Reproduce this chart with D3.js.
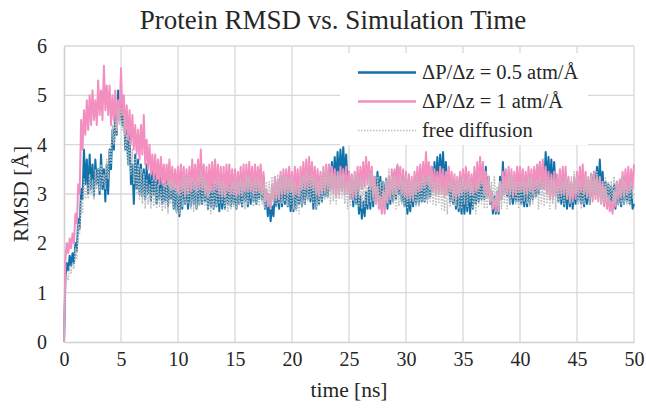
<!DOCTYPE html>
<html><head><meta charset="utf-8">
<script src="https://cdn.jsdelivr.net/npm/d3@7"></script>
<style>body{margin:0;background:#fff}svg{display:block}text{font-family:"Liberation Serif","Times New Roman",serif}</style>
</head><body><svg id="c" width="646" height="410"></svg>
<script>
const title = "Protein RMSD vs. Simulation Time";
const xLabel = "time [ns]";
const yLabel = "RMSD [Å]";
const xTicks = [0,5,10,15,20,25,30,35,40,45,50];
const yTicks = [0,1,2,3,4,5,6];
const seriesNames = ["ΔP/Δz = 0.5 atm/Å","ΔP/Δz = 1 atm/Å","free diffusion"];
const timeStep = 0.125; // ns between samples (8 samples per ns)
const rmsdHalf = [
0,1.3,1.6,1.45,1.75,1.55,1.8,1.6,
2.0,1.85,2.5,2.3,3.1,2.9,3.9,3.2,
3.7,3.0,3.8,3.1,3.6,2.95,3.7,3.2,
3.5,3.0,3.8,3.1,3.5,2.85,3.6,3.0,
3.9,3.5,4.3,3.9,4.7,4.2,5.1,4.5,
4.9,4.4,4.8,3.9,4.3,3.6,4.2,3.2,
3.6,2.8,3.8,3.1,3.7,3.0,3.6,2.95,
3.5,2.9,3.6,3.0,3.4,2.85,3.5,3.0,
3.4,2.8,3.3,2.9,3.35,2.8,3.2,2.85,
3.3,2.75,3.2,2.9,3.3,2.7,3.1,2.65,
3.05,2.55,3.15,2.7,3.35,2.8,3.3,2.7,
3.25,2.75,3.35,2.8,3.3,2.7,3.25,2.8,
3.35,2.8,3.4,2.85,3.35,2.7,3.2,2.75,
3.25,2.7,3.2,2.75,3.25,2.65,3.15,2.7,
3.1,2.7,3.35,2.8,3.3,2.75,3.25,2.8,
3.2,2.7,3.25,2.8,3.15,2.75,3.25,2.85,
3.25,2.75,3.3,2.8,3.35,2.85,3.3,2.8,
3.35,2.9,3.5,2.9,3.35,2.7,3.05,2.55,
2.85,2.45,2.75,2.55,3.05,2.75,3.2,2.7,
3.35,2.75,3.25,2.8,3.3,2.75,3.25,2.65,
3.05,2.65,3.15,2.7,3.25,2.8,3.2,2.75,
3.35,2.8,3.4,2.9,3.45,2.85,3.35,2.7,
3.2,2.7,3.25,2.8,3.35,2.85,3.3,2.95,
3.4,2.95,3.55,3.1,3.65,3.2,3.75,3.25,
3.85,3.3,3.9,3.35,3.95,3.4,3.8,3.2,
3.45,2.9,3.25,2.75,3.25,2.8,3.15,2.6,
2.95,2.5,2.85,2.55,3.05,2.7,3.15,2.7,
3.35,2.75,3.35,2.9,3.45,2.85,3.35,2.8,
3.25,2.75,3.3,2.7,3.35,2.8,3.25,2.85,
3.45,2.9,3.55,3.0,3.35,2.85,3.25,2.75,
3.05,2.6,3.0,2.65,3.15,2.75,3.25,2.8,
3.35,2.8,3.25,2.85,3.35,2.85,3.45,2.9,
3.45,2.95,3.55,3.05,3.65,3.15,3.75,3.2,
3.8,3.3,3.85,3.25,3.65,3.0,3.35,2.85,
3.25,2.8,3.2,2.7,3.05,2.65,3.05,2.6,
3.15,2.6,3.1,2.65,3.15,2.6,3.05,2.7,
3.25,2.8,3.25,2.85,3.45,2.9,3.4,2.9,
3.55,2.95,3.35,2.8,3.05,2.6,2.95,2.6,
3.05,2.6,3.35,2.9,3.65,3.0,3.45,2.95,
3.35,2.8,3.3,2.8,3.25,2.85,3.35,2.85,
3.35,2.8,3.2,2.75,3.15,2.75,3.25,2.8,
3.35,2.9,3.45,2.95,3.55,3.0,3.65,3.1,
3.55,3.1,3.85,3.25,3.75,3.2,3.7,3.1,
3.65,3.0,3.35,2.85,3.35,2.8,3.25,2.75,
3.25,2.7,3.15,2.75,3.2,2.7,3.15,2.8,
3.35,2.85,3.3,2.8,3.2,2.75,3.15,2.8,
3.25,2.8,3.4,2.95,3.45,3.0,3.55,3.1,
3.7,3.1,3.45,2.9,3.25,2.8,3.2,2.75,
3.15,2.7,3.2,2.7,3.25,2.8,3.15,2.75,
3.35,2.8,3.3,2.85,3.25,2.8,3.15,2.7,
2.8];
const rmsdOne = [
0,1.7,2.0,1.8,2.1,1.9,2.2,2.0,
2.6,2.4,3.2,3.0,4.5,3.9,4.7,4.2,
4.9,4.3,5.0,4.4,5.1,4.5,4.9,4.4,
5.3,4.6,5.1,4.5,5.6,4.7,5.2,4.6,
5.2,4.4,5.0,4.5,5.1,4.3,4.9,4.5,
5.55,4.6,5.0,4.2,4.8,4.1,4.7,4.0,
4.6,3.9,4.4,3.8,4.3,3.7,4.4,3.8,
4.6,3.6,4.1,3.5,4.0,3.4,3.8,3.3,
3.8,3.3,3.7,3.2,3.75,3.2,3.6,3.15,
3.6,3.2,3.7,3.1,3.55,3.1,3.5,3.05,
3.55,3.0,3.6,3.05,3.55,2.95,3.5,3.0,
3.55,3.05,3.7,3.1,3.6,3.05,3.7,3.1,
3.9,3.1,3.6,3.0,3.55,2.95,3.6,3.05,
3.65,3.05,3.7,3.1,3.6,3.0,3.55,2.95,
3.55,2.95,3.6,3.05,3.6,3.0,3.5,3.0,
3.5,2.95,3.45,3.0,3.55,3.0,3.6,3.05,
3.6,3.05,3.65,3.05,3.55,3.0,3.6,3.05,
3.55,3.05,3.6,3.0,3.45,2.85,3.1,2.75,
3.0,2.7,3.2,2.85,3.35,2.9,3.3,2.9,
3.45,3.0,3.5,3.0,3.5,3.0,3.55,3.05,
3.45,2.95,3.55,3.0,3.5,2.95,3.55,3.1,
3.65,3.1,3.7,3.1,3.75,3.15,3.65,3.1,
3.55,3.0,3.5,2.95,3.45,3.0,3.55,3.05,
3.6,3.1,3.6,3.05,3.55,3.0,3.5,2.95,
3.45,3.0,3.55,3.05,3.5,3.0,3.55,3.0,
3.45,2.9,3.4,2.9,3.45,2.95,3.55,3.05,
3.55,3.1,3.65,3.15,3.75,3.2,3.65,3.1,
3.55,2.95,3.35,2.8,3.15,2.7,2.95,2.6,
3.05,2.6,3.25,2.85,3.35,2.9,3.5,3.0,
3.5,3.0,3.6,3.1,3.55,3.0,3.5,2.95,
3.45,2.9,3.4,2.9,3.35,2.9,3.45,3.0,
3.55,3.05,3.6,3.1,3.65,3.15,3.85,3.2,
3.65,3.1,3.55,3.05,3.5,3.0,3.45,3.0,
3.55,3.0,3.5,2.95,3.45,3.0,3.55,3.05,
3.45,2.9,3.4,2.9,3.35,2.95,3.45,3.0,
3.5,3.05,3.55,3.05,3.45,3.0,3.4,3.0,
3.55,3.05,3.65,3.1,3.75,3.2,3.65,3.0,
3.45,2.95,3.35,2.85,3.05,2.7,2.9,2.65,
3.05,2.65,3.25,2.9,3.45,3.0,3.5,3.0,
3.55,3.0,3.5,2.95,3.45,3.0,3.55,3.05,
3.55,3.05,3.5,3.0,3.45,3.0,3.55,3.05,
3.5,3.0,3.55,3.1,3.6,3.1,3.65,3.1,
3.7,3.1,3.55,3.0,3.45,2.9,3.4,2.9,
3.45,2.95,3.4,3.0,3.5,3.0,3.55,3.0,
3.55,2.9,3.35,2.85,3.25,2.85,3.35,2.9,
3.45,3.0,3.55,3.05,3.6,3.0,3.45,2.95,
3.35,2.9,3.4,2.85,3.45,2.9,3.35,2.85,
3.35,2.8,3.25,2.75,3.15,2.7,2.95,2.65,
2.85,2.6,3.05,2.75,3.25,2.9,3.3,2.95,
3.45,2.95,3.5,3.0,3.55,3.05,3.5,3.1,
3.6];
const rmsdFree = [
0,1.1,1.35,1.25,1.55,1.4,1.6,1.5,
1.9,1.7,2.4,2.2,2.9,2.6,3.3,2.9,
3.2,2.9,3.4,3.0,3.3,2.9,3.5,3.1,
3.5,3.05,3.6,3.2,3.4,3.1,3.7,3.3,
3.9,3.6,4.4,4.0,4.5,4.2,4.7,4.4,
4.75,4.3,4.6,3.9,4.2,3.6,4.1,3.4,
3.9,3.2,3.7,3.0,3.6,2.9,3.5,2.8,
3.4,2.7,3.3,2.8,3.2,2.7,3.3,2.75,
3.3,2.7,3.2,2.75,3.1,2.65,3.2,2.7,
3.2,2.6,3.3,2.8,3.3,2.7,3.2,2.6,
3.15,2.6,3.25,2.75,3.4,2.8,3.35,2.8,
3.35,2.7,3.3,2.65,3.25,2.7,3.35,2.75,
3.45,2.8,3.35,2.75,3.25,2.65,3.15,2.6,
3.15,2.7,3.25,2.75,3.35,2.8,3.25,2.8,
3.25,2.7,3.2,2.65,3.15,2.7,3.25,2.75,
3.35,2.7,3.25,2.8,3.3,2.75,3.25,2.7,
3.4,2.8,3.35,2.9,3.25,2.75,3.35,2.8,
3.35,2.75,3.25,2.8,3.15,2.7,3.25,2.75,
3.25,2.7,3.35,2.8,3.3,2.75,3.4,2.8,
3.4,2.8,3.35,2.85,3.35,2.75,3.3,2.8,
3.35,2.7,3.25,2.65,3.15,2.6,3.35,2.75,
3.35,2.8,3.45,2.85,3.35,2.9,3.4,2.8,
3.35,2.7,3.25,2.75,3.35,2.8,3.5,2.9,
3.5,2.9,3.35,2.8,3.45,2.85,3.35,2.8,
3.45,2.9,3.35,2.9,3.4,2.8,3.25,2.7,
3.25,2.75,3.35,2.85,3.45,2.8,3.35,2.75,
3.35,2.7,3.25,2.75,3.3,2.8,3.4,2.85,
3.4,2.85,3.35,2.8,3.35,2.75,3.25,2.75,
3.25,2.75,3.35,2.8,3.5,2.9,3.35,2.8,
3.35,2.7,3.25,2.75,3.35,2.8,3.25,2.75,
3.35,2.7,3.25,2.8,3.35,2.85,3.25,2.75,
3.35,2.75,3.25,2.8,3.4,2.85,3.35,2.8,
3.35,2.85,3.4,2.8,3.25,2.75,3.35,2.8,
3.25,2.7,3.15,2.65,3.25,2.6,3.25,2.75,
3.35,2.8,3.25,2.75,3.35,2.7,3.25,2.7,
3.35,2.8,3.25,2.75,3.35,2.85,3.25,2.7,
3.15,2.6,3.25,2.75,3.35,2.8,3.25,2.7,
3.25,2.7,3.35,2.8,3.25,2.75,3.35,2.8,
3.15,2.65,3.25,2.7,3.35,2.8,3.25,2.7,
3.35,2.8,3.45,2.9,3.35,2.8,3.25,2.7,
3.25,2.8,3.35,2.85,3.25,2.8,3.35,2.75,
3.35,2.8,3.25,2.9,3.25,2.7,3.35,2.8,
3.25,2.75,3.35,2.8,3.25,2.7,3.35,2.8,
3.25,2.7,3.15,2.8,3.35,2.9,3.25,2.8,
3.35,2.9,3.25,2.8,3.35,2.85,3.45,3.0,
3.35,2.8,3.25,2.7,3.15,2.8,3.35,2.9,
3.35,2.8,3.45,2.9,3.35,3.0,3.45,2.9,
3.35,2.8,3.25,2.8,3.35,2.85,3.25,2.8,
3.25,2.8,3.35,2.85,3.25,2.75,3.15,2.8,
3.35,2.8,3.25,2.8,3.15,2.75,3.25,2.9,
3.0];
const colors = ["#1071ab","#f28fbf","#bdbdbd"];

const svg = d3.select("#c");
const m = {l:64, r:12, t:46, b:68};
const W = 646, H = 410;
const x = d3.scaleLinear().domain([0,50]).range([m.l, W-m.r]);
const y = d3.scaleLinear().domain([0,6]).range([H-m.b, m.t]);

// gridlines
svg.append("g").selectAll("line").data(yTicks.slice(1)).join("line")
  .attr("x1",m.l).attr("x2",W-m.r).attr("y1",d=>y(d)).attr("y2",d=>y(d))
  .attr("stroke","#d9d9d9").attr("stroke-width",1.3);
svg.append("g").selectAll("line").data(xTicks.slice(1)).join("line")
  .attr("y1",y(0)).attr("y2",m.t).attr("x1",d=>x(d)).attr("x2",d=>x(d))
  .attr("stroke","#d9d9d9").attr("stroke-width",1.3);

// axes
const fmt = d3.format("d");
const xa = svg.append("g").attr("transform",`translate(0,${y(0)})`)
  .call(d3.axisBottom(x).tickValues(xTicks).tickFormat(fmt).tickSize(0).tickPadding(10));
const ya = svg.append("g").attr("transform",`translate(${m.l},0)`)
  .call(d3.axisLeft(y).tickValues(yTicks).tickFormat(fmt).tickSize(0).tickPadding(17));
[xa,ya].forEach(a=>{
  a.attr("font-family",null);
  a.select(".domain").attr("stroke","#d0d0d0").attr("stroke-width",1.6);
  a.selectAll("text").attr("font-size",20).attr("fill","#262626");
});

// series
const data = [rmsdHalf, rmsdOne, rmsdFree];
const line = d3.line().x((d,i)=>x(i*timeStep)).y(d=>y(d));
const g = svg.append("g");
data.forEach((s,k)=>{
  g.append("path").datum(s).attr("d",line).attr("fill","none")
   .attr("stroke",colors[k]).attr("stroke-width",k===2?1.5:2)
   .attr("stroke-linejoin","round")
   .attr("stroke-dasharray",k===2?"1.5,1.5":null);
});

// legend
const lg = svg.append("g");
lg.append("rect").attr("x",340).attr("y",53).attr("width",248).attr("height",92).attr("fill","#fff");
seriesNames.forEach((n,k)=>{
  const yy = 72.5 + k*29;
  lg.append("line").attr("x1",358).attr("x2",416).attr("y1",yy).attr("y2",yy)
    .attr("stroke",colors[k]).attr("stroke-width",k===2?1.5:2.4)
    .attr("stroke-dasharray",k===2?"1.5,1.5":null);
  lg.append("text").attr("x",422).attr("y",yy+6.5).attr("font-size",20.5).attr("fill","#262626").text(n);
});

// titles
svg.append("text").attr("x",333).attr("y",29).attr("text-anchor","middle")
  .attr("font-size",27).attr("fill","#262626").text(title);
svg.append("text").attr("x",x(25)).attr("y",397).attr("text-anchor","middle")
  .attr("font-size",21.5).attr("fill","#262626").text(xLabel);
svg.append("text").attr("transform",`translate(28,${y(3)}) rotate(-90)`).attr("text-anchor","middle")
  .attr("font-size",21.5).attr("fill","#262626").text(yLabel);
</script></body></html>
